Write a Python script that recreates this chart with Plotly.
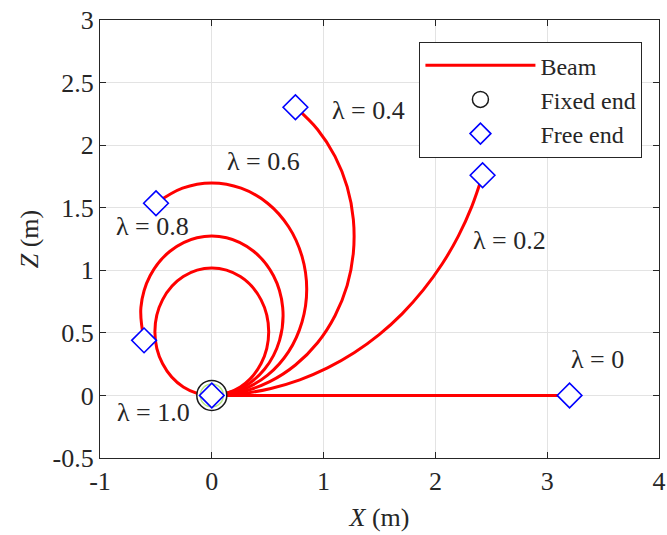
import plotly.graph_objects as go

# ---- data (X, Z in metres) ----
lam_labels = ["λ = 0", "λ = 0.2", "λ = 0.4", "λ = 0.6", "λ = 0.8", "λ = 1.0"]

x_l00 = [0.0, 3.2]
z_l00 = [0.0, 0.0]

x_l02 = [0, 0.266, 0.529, 0.787, 1.035, 1.273, 1.497, 1.704, 1.892, 2.060, 2.205, 2.326, 2.422]
z_l02 = [0, 0.014, 0.056, 0.125, 0.220, 0.341, 0.486, 0.654, 0.843, 1.050, 1.273, 1.511, 1.759]

x_l04 = [0, 0.265, 0.518, 0.748, 0.946, 1.102, 1.211, 1.266, 1.266, 1.211, 1.102, 0.946, 0.748]
z_l04 = [0, 0.028, 0.110, 0.243, 0.421, 0.637, 0.880, 1.140, 1.406, 1.666, 1.910, 2.125, 2.303]

x_l06 = [0, 0.262, 0.499, 0.687, 0.807, 0.849, 0.807, 0.687, 0.499, 0.262, 0, -0.262, -0.499]
z_l06 = [0, 0.042, 0.162, 0.350, 0.587, 0.849, 1.111, 1.348, 1.536, 1.656, 1.698, 1.656, 1.536]

x_l08 = [0, 0.259, 0.473, 0.606, 0.634, 0.552, 0.374, 0.132, -0.132, -0.374, -0.552, -0.634, -0.606]
z_l08 = [0, 0.055, 0.211, 0.440, 0.704, 0.956, 1.152, 1.260, 1.260, 1.152, 0.956, 0.704, 0.440]

x_l10 = [0, 0.255, 0.441, 0.509, 0.441, 0.255, 0, -0.255, -0.441, -0.509, -0.441, -0.255, 0]
z_l10 = [0, 0.068, 0.255, 0.509, 0.764, 0.950, 1.018, 0.950, 0.764, 0.509, 0.255, 0.068, 0]

beams_x = [x_l00, x_l02, x_l04, x_l06, x_l08, x_l10]
beams_z = [z_l00, z_l02, z_l04, z_l06, z_l08, z_l10]

fixed_x = [0.0]
fixed_z = [0.0]

free_x = [3.2, 2.422, 0.748, -0.499, -0.606, 0.0]
free_z = [0.0, 1.759, 2.303, 1.536, 0.440, 0.0]

label_x = [3.45, 2.66, 1.40, 0.46, -0.53, -0.52]
label_z = [0.29, 1.24, 2.28, 1.87, 1.35, -0.14]

x_ticks = [-1, 0, 1, 2, 3, 4]
x_tick_text = ["-1", "0", "1", "2", "3", "4"]
y_ticks = [-0.5, 0, 0.5, 1, 1.5, 2, 2.5, 3]
y_tick_text = ["-0.5", "0", "0.5", "1", "1.5", "2", "2.5", "3"]

FONT = "Liberation Serif, Times New Roman, serif"
TXT = "#262626"
FS = 26

fig = go.Figure()

for i, (bx, bz) in enumerate(zip(beams_x, beams_z)):
    fig.add_trace(go.Scatter(
        x=bx, y=bz, mode="lines",
        line=dict(color="#ff0000", width=3, shape="spline", smoothing=1.0),
        name="Beam", showlegend=(i == 0), legendrank=1,
    ))

# fixed end: double ring
fig.add_trace(go.Scatter(
    x=fixed_x, y=fixed_z, mode="markers", name="Fixed end", legendrank=2,
    marker=dict(symbol="circle", size=30, color="white",
                line=dict(color="#1a1a1a", width=1.5)),
))
fig.add_trace(go.Scatter(
    x=fixed_x, y=fixed_z, mode="markers", showlegend=False,
    marker=dict(symbol="circle-open", size=23,
                line=dict(color="#1a1a1a", width=1.5)),
))

fig.add_trace(go.Scatter(
    x=free_x, y=free_z, mode="markers", name="Free end", legendrank=3,
    marker=dict(symbol="diamond", size=19, color="white",
                line=dict(color="#0000ff", width=1.6)),
))

for lx, lz, t in zip(label_x, label_z, lam_labels):
    fig.add_annotation(x=lx, y=lz, text=t, showarrow=False,
                       font=dict(family=FONT, size=FS, color=TXT),
                       xanchor="center", yanchor="middle")

axis_common = dict(
    showgrid=True, gridcolor="#e3e3e3", gridwidth=1,
    zeroline=False, showline=True, linecolor="#262626", linewidth=1.3,
    mirror="ticks", ticks="inside", ticklen=6, tickcolor="#262626",
    tickfont=dict(family=FONT, size=FS, color=TXT),
    ticklabeloverflow="allow",
)

fig.update_xaxes(range=[-1, 4], tickvals=x_ticks, ticktext=x_tick_text,
                 title=dict(text="<i>X</i> (m)", font=dict(family=FONT, size=FS, color=TXT), standoff=12),
                 **axis_common)
fig.update_yaxes(range=[-0.5, 3], tickvals=y_ticks, ticktext=y_tick_text,
                 title=dict(text="<i>Z</i> (m)", font=dict(family=FONT, size=FS, color=TXT), standoff=6),
                 **axis_common)

fig.update_layout(
    width=667, height=535,
    margin=dict(l=100, r=8, t=20, b=77, autoexpand=False),
    paper_bgcolor="white", plot_bgcolor="white",
    font=dict(family=FONT, size=FS, color=TXT),
    legend=dict(x=0.97, y=0.95, xanchor="right", yanchor="top",
                bgcolor="white", bordercolor="#262626", borderwidth=1.2,
                font=dict(family=FONT, size=24, color=TXT),
                itemwidth=110, tracegroupgap=0),
)

fig.write_html("out.html")
